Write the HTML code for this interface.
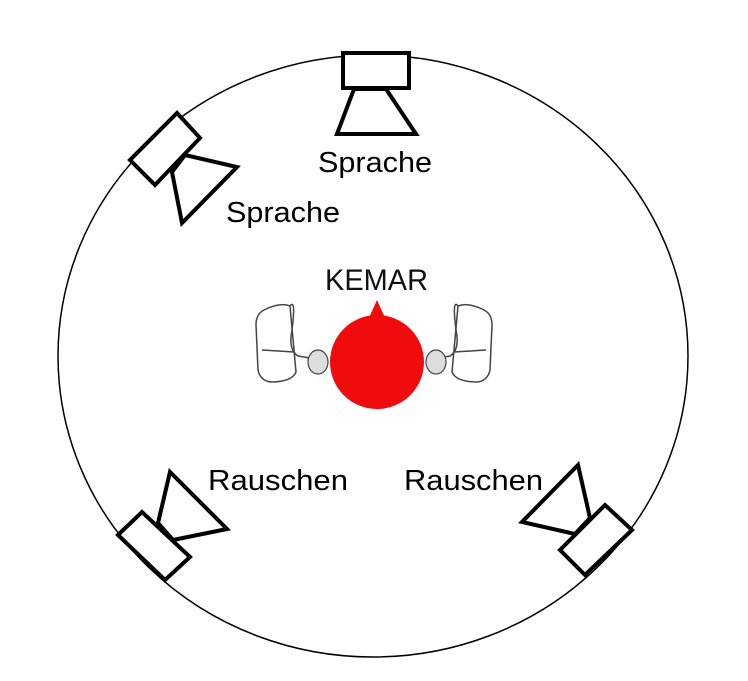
<!DOCTYPE html>
<html><head><style>body{margin:0;background:#fff}svg{display:block}</style></head><body>
<svg width="748" height="681" viewBox="0 0 748 681" xmlns="http://www.w3.org/2000/svg" font-family="Liberation Sans, sans-serif">
<ellipse cx="373" cy="356" rx="315" ry="301" fill="none" stroke="#000" stroke-width="1.5"/>
<g fill="#fff" stroke="#000" stroke-width="4" stroke-linejoin="miter">
<rect x="343" y="53" width="66" height="35"/>
<polygon points="354,89 386,89 416,134 337,134"/>
<polygon points="177,113 200,138 155,185 130,160"/>
<polygon points="172,172 185,155 237,167 182,223"/>
<polygon points="118,535 142,512 190,557 165,580"/>
<polygon points="158,523 170,472 227,529 173,540"/>
<polygon points="560,550 605,505 632,530 585,575"/>
<polygon points="578,465 590,518 575,534 522,522"/>
</g>
<g font-size="29" fill="#000">
<text x="318" y="172" textLength="114" lengthAdjust="spacingAndGlyphs">Sprache</text>
<text x="226" y="222" textLength="114" lengthAdjust="spacingAndGlyphs">Sprache</text>
<text x="208" y="490" textLength="140" lengthAdjust="spacingAndGlyphs">Rauschen</text>
<text x="404" y="490" textLength="139" lengthAdjust="spacingAndGlyphs">Rauschen</text>
</g>
<text x="325" y="290" font-size="30" textLength="103" lengthAdjust="spacingAndGlyphs" fill="#111">KEMAR</text>
<circle cx="377" cy="362" r="47" fill="#f00c0c"/>
<path d="M377,300 L386,320 Q392,326 400,322 L354,322 Q362,326 368,320Z" fill="#f00c0c"/>
<g fill="none" stroke="#444" stroke-width="1.5">
<path d="M264,310 Q280,302 290,306 L296,372 Q292,382 270,382 Q260,380 258,370 L256,325 Q256,314 264,310Z"/>
<path d="M290,306 Q296,298 292,330 Q288,350 298,356 L310,358"/>
<path d="M262,350 L294,352"/>
<path d="M484,310 Q468,302 458,306 L452,372 Q456,382 478,382 Q488,380 490,370 L492,325 Q492,314 484,310Z"/>
<path d="M458,306 Q452,298 456,330 Q460,350 450,356 L438,358"/>
<path d="M486,350 L454,352"/>
</g>
<ellipse cx="318" cy="362" rx="10" ry="12" fill="#ddd" stroke="#444" stroke-width="1.2"/>
<ellipse cx="436" cy="362" rx="10" ry="12" fill="#ddd" stroke="#444" stroke-width="1.2"/>
</svg>
</body></html>
